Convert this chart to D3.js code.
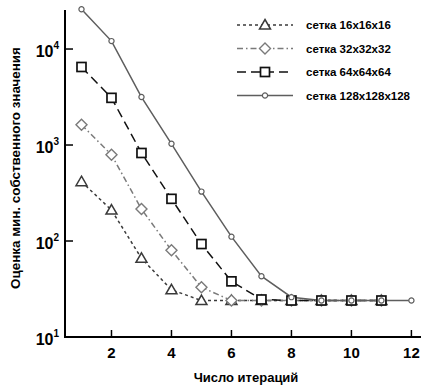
<!DOCTYPE html>
<html>
<head>
<meta charset="utf-8">
<script src="https://cdn.jsdelivr.net/npm/d3@7"></script>
<style>
  body { margin: 0; background: #fff; }
  svg { font-family: "Liberation Sans", Arial, sans-serif; font-weight: bold; }
</style>
</head>
<body>
<svg id="chart" width="421" height="385"></svg>
<script>
// Data
const iterations = [1, 2, 3, 4, 5, 6, 7, 8, 9, 10, 11, 12];
const grid16  = [415, 210, 66, 31, 24, 24, 24, 24, 24, 24, 24];
const grid32  = [1630, 790, 215, 80, 33, 24, 24, 24, 24, 24, 24];
const grid64  = [6500, 3100, 826, 275, 93, 38, 24.6, 24, 24, 24, 24];
const grid128 = [26000, 12100, 3160, 1030, 327, 111, 43, 26, 24, 24, 24, 24];
const seriesNames = ["сетка 16x16x16", "сетка 32x32x32", "сетка 64x64x64", "сетка 128x128x128"];
const xTicks = [2, 4, 6, 8, 10, 12];
const yTicks = [1, 2, 3, 4]; // powers of ten

const series = [
  { name: seriesNames[0], values: grid16,  color: "#3a3a3a", dash: "3,3",       marker: "triangle" },
  { name: seriesNames[1], values: grid32,  color: "#7a7a7a", dash: "6,3,1.5,3", marker: "diamond" },
  { name: seriesNames[2], values: grid64,  color: "#111",    dash: "9,5",       marker: "square" },
  { name: seriesNames[3], values: grid128, color: "#5e5e5e", dash: null,        marker: "circle" }
];

const svg = d3.select("#chart");

// Scales
const x = d3.scaleLinear().domain([0.45, 12.32]).range([65, 421]);
const y = d3.scaleLog().domain([10, 25500]).range([337, 10]);

// Axes (ticks point inwards)
svg.append("line")
    .attr("x1", x.range()[0]).attr("x2", x.range()[1])
    .attr("y1", y(10)).attr("y2", y(10))
    .attr("stroke", "#000").attr("stroke-width", 2);
svg.append("line")
    .attr("x1", x.range()[0]).attr("x2", x.range()[0])
    .attr("y1", y.range()[0] + 1).attr("y2", y.range()[1])
    .attr("stroke", "#000").attr("stroke-width", 2);

svg.selectAll(".xtick")
    .data(xTicks)
    .enter().append("line")
    .attr("x1", d => x(d)).attr("x2", d => x(d))
    .attr("y1", y(10)).attr("y2", y(10) - 7)
    .attr("stroke", "#000").attr("stroke-width", 1.5);

svg.selectAll(".xlabel")
    .data(xTicks)
    .enter().append("text")
    .attr("x", d => x(d))
    .attr("y", y(10) + 20.5)
    .attr("text-anchor", "middle")
    .attr("font-size", 15)
    .text(d => d);

svg.selectAll(".ytick")
    .data(yTicks)
    .enter().append("line")
    .attr("x1", x.range()[0]).attr("x2", x.range()[0] + 8)
    .attr("y1", d => y(Math.pow(10, d))).attr("y2", d => y(Math.pow(10, d)))
    .attr("stroke", "#000").attr("stroke-width", 1.5);

const ylab = svg.selectAll(".ylabel")
    .data(yTicks)
    .enter().append("text")
    .attr("x", 59)
    .attr("y", d => y(Math.pow(10, d)) + 7.5)
    .attr("text-anchor", "end")
    .attr("font-size", 16);
ylab.append("tspan").text("10");
ylab.append("tspan").attr("font-size", 10).attr("dy", -8).text(d => d);

// Axis titles
svg.append("text")
    .attr("x", 246).attr("y", 382)
    .attr("text-anchor", "middle")
    .attr("font-size", 13)
    .text("Число итераций");

svg.append("text")
    .attr("transform", "translate(20,168) rotate(-90)")
    .attr("text-anchor", "middle")
    .attr("font-size", 13.4)
    .text("Оценка мин. собственного значения");

// Markers
function drawMarker(g, type, color) {
  if (type === "triangle") {
    g.append("path").attr("d", "M0,-5.5L5.5,4L-5.5,4Z")
      .attr("fill", "#fff").attr("stroke", color).attr("stroke-width", 1.5);
  } else if (type === "diamond") {
    g.append("path").attr("d", "M0,-5.5L5.5,0L0,5.5L-5.5,0Z")
      .attr("fill", "#fff").attr("stroke", color).attr("stroke-width", 1.4);
  } else if (type === "square") {
    g.append("rect").attr("x", -4.5).attr("y", -4.5).attr("width", 9).attr("height", 9)
      .attr("fill", "#fff").attr("stroke", color).attr("stroke-width", 1.7);
  } else {
    g.append("circle").attr("r", 2.6)
      .attr("fill", "#fff").attr("stroke", color).attr("stroke-width", 1.2);
  }
}

const line = d3.line()
    .x((d, i) => x(iterations[i]))
    .y(d => y(d));

series.forEach(s => {
  svg.append("path")
      .datum(s.values)
      .attr("d", line)
      .attr("fill", "none")
      .attr("stroke", s.color)
      .attr("stroke-width", 1.5)
      .attr("stroke-dasharray", s.dash);
});

series.forEach(s => {
  s.values.forEach((v, i) => {
    const g = svg.append("g").attr("transform", `translate(${x(iterations[i])},${y(v)})`);
    drawMarker(g, s.marker, s.color);
  });
});

// Legend
const legend = svg.append("g");
series.forEach((s, i) => {
  const ly = 25 + i * 23.5;
  legend.append("line")
      .attr("x1", 237).attr("x2", 293)
      .attr("y1", ly).attr("y2", ly)
      .attr("stroke", s.color).attr("stroke-width", 1.5)
      .attr("stroke-dasharray", s.dash);
  const g = legend.append("g").attr("transform", `translate(265,${ly})`);
  drawMarker(g, s.marker, s.color);
  legend.append("text")
      .attr("x", 306).attr("y", ly + 4)
      .attr("font-size", 11.5)
      .text(s.name);
});
</script>
</body>
</html>
